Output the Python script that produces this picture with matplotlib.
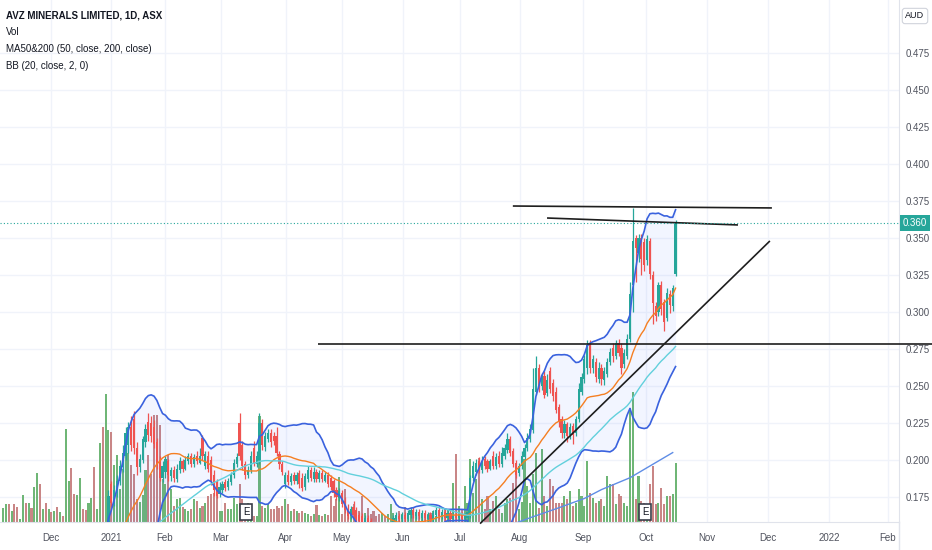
import numpy as np
import pandas as pd
import matplotlib
matplotlib.use("Agg")
import matplotlib.pyplot as plt
from matplotlib.lines import Line2D
from matplotlib.transforms import blended_transform_factory

# daily bars, Nov 2020 -> mid Oct 2021 (bar index on the x axis)
opens = [
    .110, .112, .115, .113, .118, .116, .114, .117, .120, .118,
    .121, .119, .122, .125, .123, .126, .124, .128, .127, .130,
    .128, .131, .129, .133, .136, .134, .132, .135, .138, .136,
    .134, .137, .140, .139, .143, .150, .145, .158, .184, .171,
    .178, .186, .195, .203, .210, .222, .228, .208, .195, .200,
    .212, .226, .225, .222, .212, .200, .188, .192, .199, .189,
    .193, .187, .193, .199, .194, .199, .203, .197, .203, .198,
    .215, .196, .203, .200, .190, .185, .177, .180, .185, .182,
    .185, .190, .197, .225, .210, .197, .190, .193, .208, .197,
    .200, .225, .209, .214, .218, .216, .216, .204, .197, .184,
    .190, .185, .190, .186, .191, .188, .182, .187, .193, .187,
    .192, .187, .191, .186, .190, .188, .186, .180, .174, .178,
    .172, .167, .162, .168, .166, .163, .162, .157, .161, .159,
    .156, .152, .150, .149, .152, .150, .154, .157, .160, .162,
    .160, .163, .160, .163, .166, .162, .165, .161, .164, .160,
    .163, .160, .163, .166, .162, .165, .161, .164, .160, .163,
    .161, .163, .160, .161, .163, .188, .192, .199, .193, .201,
    .199, .194, .203, .196, .203, .197, .203, .207, .214, .206,
    .198, .191, .196, .202, .208, .214, .220, .246, .262, .250,
    .257, .245, .260, .252, .246, .236, .228, .218, .224, .217,
    .223, .218, .228, .246, .255, .262, .279, .262, .266, .255,
    .262, .254, .258, .266, .276, .270, .279, .276, .265, .270,
    .282, .318, .350, .340, .350, .347, .335, .348, .325, .304,
    .300, .318, .307, .296, .312, .304, .326]
highs = [
    .114, .117, .116, .119, .119, .117, .118, .122, .121, .123,
    .122, .124, .128, .126, .128, .127, .130, .129, .132, .131,
    .133, .132, .139, .138, .137, .135, .137, .140, .139, .137,
    .139, .142, .141, .145, .148, .153, .158, .180, .186, .183,
    .190, .200, .210, .222, .226, .230, .233, .212, .204, .216,
    .224, .232, .230, .227, .215, .203, .199, .203, .201, .195,
    .196, .197, .202, .201, .203, .205, .205, .204, .206, .208,
    .217, .206, .206, .203, .193, .187, .185, .186, .187, .188,
    .192, .201, .205, .232, .213, .199, .196, .206, .213, .206,
    .232, .228, .219, .221, .221, .219, .222, .206, .199, .192,
    .193, .191, .192, .192, .193, .191, .191, .196, .195, .195,
    .194, .193, .193, .192, .192, .190, .187, .182, .181, .180,
    .175, .170, .169, .172, .168, .165, .164, .163, .163, .161,
    .158, .154, .152, .154, .154, .156, .159, .163, .165, .164,
    .165, .165, .166, .168, .168, .167, .167, .166, .166, .165,
    .165, .166, .168, .168, .167, .167, .166, .166, .165, .166,
    .165, .165, .164, .167, .190, .199, .201, .202, .203, .203,
    .201, .201, .206, .205, .206, .209, .211, .218, .216, .208,
    .200, .198, .206, .211, .218, .224, .262, .270, .265, .259,
    .260, .258, .263, .255, .249, .238, .230, .227, .226, .225,
    .225, .230, .252, .259, .271, .281, .281, .271, .269, .266,
    .265, .263, .269, .276, .279, .281, .282, .279, .275, .285,
    .320, .370, .352, .353, .353, .350, .352, .350, .328, .307,
    .320, .321, .309, .316, .315, .318, .362]
lows = [
    .109, .111, .111, .112, .114, .112, .113, .116, .116, .117,
    .117, .118, .121, .121, .122, .122, .123, .125, .126, .126,
    .127, .127, .128, .132, .132, .130, .131, .134, .134, .133,
    .133, .136, .137, .138, .141, .143, .144, .156, .168, .169,
    .175, .183, .192, .200, .205, .206, .204, .190, .192, .198,
    .209, .213, .212, .208, .194, .186, .185, .188, .186, .186,
    .185, .185, .191, .192, .193, .197, .195, .195, .197, .197,
    .200, .194, .192, .183, .176, .174, .175, .178, .179, .180,
    .183, .188, .195, .200, .193, .187, .188, .191, .196, .195,
    .197, .207, .206, .212, .209, .210, .203, .194, .190, .181,
    .183, .183, .184, .184, .181, .179, .180, .185, .186, .185,
    .185, .185, .185, .185, .182, .180, .175, .173, .172, .168,
    .164, .160, .160, .161, .158, .157, .156, .155, .155, .153,
    .150, .148, .147, .147, .148, .149, .152, .155, .158, .158,
    .158, .158, .159, .161, .161, .160, .160, .159, .159, .158,
    .158, .158, .161, .160, .160, .159, .159, .158, .158, .159,
    .159, .158, .158, .159, .161, .186, .190, .191, .191, .194,
    .192, .193, .194, .194, .195, .195, .201, .205, .203, .195,
    .188, .189, .194, .200, .206, .212, .218, .244, .246, .247,
    .242, .243, .245, .240, .232, .222, .215, .215, .212, .214,
    .211, .216, .226, .244, .252, .258, .259, .259, .253, .252,
    .251, .251, .256, .264, .266, .268, .270, .258, .262, .268,
    .280, .300, .320, .334, .325, .328, .332, .322, .292, .294,
    .297, .298, .287, .294, .299, .301, .324]
closes = [
    .112, .115, .113, .118, .116, .114, .117, .120, .118, .121,
    .119, .122, .125, .123, .126, .124, .128, .127, .130, .128,
    .131, .129, .133, .136, .134, .132, .135, .138, .136, .134,
    .137, .140, .139, .143, .146, .145, .155, .176, .171, .180,
    .186, .196, .205, .218, .222, .210, .208, .195, .201, .214,
    .221, .217, .216, .211, .197, .188, .196, .201, .190, .193,
    .188, .194, .199, .194, .200, .203, .197, .202, .199, .203,
    .203, .204, .194, .185, .180, .176, .182, .184, .181, .186,
    .190, .198, .202, .203, .196, .190, .193, .203, .198, .203,
    .225, .210, .216, .218, .212, .213, .205, .197, .192, .190,
    .185, .189, .186, .190, .184, .181, .189, .193, .188, .192,
    .187, .191, .187, .190, .184, .182, .178, .175, .179, .170,
    .166, .162, .167, .163, .160, .159, .158, .161, .157, .155,
    .152, .150, .149, .152, .150, .154, .157, .161, .163, .160,
    .163, .160, .164, .166, .163, .165, .162, .164, .161, .163,
    .160, .164, .166, .162, .165, .161, .164, .160, .163, .161,
    .163, .160, .162, .165, .188, .196, .198, .193, .199, .196,
    .194, .199, .196, .202, .197, .205, .208, .214, .205, .197,
    .190, .196, .203, .208, .215, .221, .248, .262, .250, .256,
    .244, .254, .248, .243, .234, .226, .218, .224, .216, .222,
    .217, .228, .248, .256, .268, .278, .262, .268, .256, .262,
    .255, .260, .266, .273, .270, .279, .272, .262, .272, .282,
    .312, .348, .343, .350, .336, .332, .349, .326, .306, .297,
    .318, .302, .293, .313, .305, .316, .360]
volumes = [
    14, 18, 18, 11, 18, 15, 3, 27, 19, 19,
    14, 35, 49, 38, 13, 19, 13, 10, 11, 15,
    10, 6, 93, 41, 54, 28, 27, 44, 13, 12,
    19, 24, 55, 13, 79, 95, 128, 92, 90, 57,
    67, 33, 53, 82, 69, 57, 48, 23, 20, 27,
    52, 67, 48, 107, 107, 97, 43, 38, 67, 33,
    16, 23, 24, 15, 13, 11, 13, 23, 21, 14,
    16, 19, 26, 28, 29, 27, 11, 11, 19, 13,
    13, 24, 18, 38, 23, 9, 19, 9, 6, 6,
    106, 16, 14, 18, 13, 13, 16, 14, 16, 23,
    18, 11, 13, 11, 9, 11, 9, 8, 6, 8,
    17, 7, 6, 8, 7, 26, 16, 23, 45, 8,
    33, 6, 11, 18, 8, 11, 26, 9, 14, 8,
    11, 6, 8, 9, 6, 8, 18, 9, 6, 11,
    8, 15, 8, 9, 7, 9, 8, 6, 9, 8,
    9, 11, 6, 9, 8, 13, 13, 8, 39, 68,
    16, 13, 36, 19, 63, 29, 43, 64, 23, 13,
    26, 13, 21, 26, 13, 9, 19, 23, 24, 39,
    51, 13, 20, 63, 36, 19, 48, 69, 14, 73,
    26, 16, 43, 36, 19, 19, 19, 26, 23, 31,
    16, 19, 33, 26, 16, 61, 29, 24, 19, 21,
    23, 16, 46, 38, 38, 18, 28, 26, 19, 16,
    114, 130, 23, 46, 21, 19, 16, 38, 56, 18,
    19, 34, 18, 26, 26, 28, 59]

# MA200 (bar index, price)
ma200_idx = [178, 185, 194, 204, 210, 220, 235]
ma200_val = [0.156, 0.161, 0.167, 0.174, 0.180, 0.188, 0.205]

# month labels on the time axis (bar index)
month_pos = [16.7, 37.9, 56.8, 76.5, 99.3, 118.9, 140.4, 160.4, 181.4,
             203.5, 225.6, 247.0, 268.4, 289.8, 310.5]
month_lbl = ['Dec', '2021', 'Feb', 'Mar', 'Apr', 'May', 'Jun', 'Jul', 'Aug',
             'Sep', 'Oct', 'Nov', 'Dec', '2022', 'Feb']
price_ticks = [0.175, 0.200, 0.225, 0.250, 0.275, 0.300, 0.325, 0.350,
               0.375, 0.400, 0.425, 0.450, 0.475]

# hand-drawn trend lines (bar index, price)
trend_lines = [
    ([178.9, 269.8], [0.3716, 0.3703]),
    ([190.9, 257.9], [0.3635, 0.3588]),
    ([110.5, 326.0], [0.2785, 0.2785]),
    ([167.4, 269.1], [0.1570, 0.3480]),
]
last_price = 0.360
earnings_idx = [85.3, 225.3]

UP, DOWN = '#26a69a', '#ef5350'
fam = ['Liberation Sans', 'DejaVu Sans']

o = np.array(opens)
h = np.array(highs)
l = np.array(lows)
c = np.array(closes)
v = np.array(volumes, dtype=float)
idx = np.arange(len(c))

close = pd.Series(c)
basis = close.rolling(20).mean()
dev = close.rolling(20).std(ddof=0)
upper = basis + 2 * dev
lower = basis - 2 * dev
ma50 = close.rolling(50).mean()

fig = plt.figure(figsize=(9.32, 5.5), dpi=100)
ax = fig.add_axes([0, 28 / 550, 899 / 932, 522 / 550])
ax.set_xlim(-1.05, 314.4)
ax.set_ylim(0.1581, 0.5108)

# grid
for m in month_pos:
    ax.axvline(m, color='#f0f3fa', lw=1, zorder=0)
for p in price_ticks:
    ax.axhline(p, color='#f0f3fa', lw=1, zorder=0)

# volume in the bottom quarter of the pane
up = c >= o
vol_col = np.where(up, '#6fb676', '#c98686')
trans = blended_transform_factory(ax.transData, ax.transAxes)
ax.bar(idx, v / (v.max() * 4.02), width=0.72, bottom=0, color=vol_col,
       transform=trans, zorder=1)

# bollinger bands and moving averages
ax.fill_between(idx, lower, upper, color='#2962ff', alpha=0.06, lw=0, zorder=2)
ax.plot(idx, upper, color='#3a62de', lw=1.2, zorder=4)
ax.plot(idx, lower, color='#3a62de', lw=1.2, zorder=4)
ax.plot(idx, basis, color='#f57f22', lw=1.0, zorder=4)
ax.plot(idx, ma50, color='#62d0dc', lw=1.0, zorder=4)
ax.plot(ma200_idx, ma200_val, color='#5f8de6', lw=1.0, zorder=4)

# candles
cc = np.where(up, UP, DOWN)
ax.vlines(idx, l, h, color=cc, lw=0.9, zorder=3)
body = np.maximum(np.abs(c - o), 0.0008)
ax.bar(idx, body, bottom=np.minimum(o, c), width=0.78, color=cc, zorder=3)

# drawings
for xs, ys in trend_lines:
    ax.plot(xs, ys, color='#1e1e1e', lw=1.2, zorder=5, clip_on=False,
            solid_capstyle='butt')
ax.axhline(last_price, color=UP, lw=0.8, ls=(0, (1, 2)), zorder=5)

for e in earnings_idx:
    ax.text(e, 0.019, 'E', transform=trans, ha='center', va='center',
            fontsize=7, color='#131722', family=fam, zorder=6,
            bbox=dict(boxstyle='square,pad=0.3', fc='white', ec='#3a3e4a', lw=1.2))

# axes styling
for s in ['top', 'left']:
    ax.spines[s].set_visible(False)
for s in ['bottom', 'right']:
    ax.spines[s].set_color('#e0e3eb')
ax.yaxis.tick_right()
ax.set_yticks(price_ticks)
ax.set_yticklabels(['%.3f' % p for p in price_ticks], family=fam)
ax.set_xticks(month_pos)
ax.set_xticklabels(month_lbl, family=fam)
ax.tick_params(axis='y', length=0, pad=5, labelsize=7, colors='#50535e')
ax.tick_params(axis='x', length=0, pad=8, labelsize=7, colors='#50535e')
fig.add_artist(Line2D([899 / 932, 899 / 932], [0, 28 / 550], color='#e0e3eb', lw=1))

# price label and currency box
fig.text(915 / 932, 1 - 223 / 550, '%.3f' % last_price, ha='center', va='center',
         fontsize=7, color='white', family=fam,
         bbox=dict(boxstyle='square,pad=0.3', fc=UP, ec='none'))
fig.text(915 / 932, 1 - 16 / 550, 'AUD', ha='center', va='center', fontsize=6.5,
         color='#131722', family=fam,
         bbox=dict(boxstyle='round,pad=0.35,rounding_size=0.3', fc='white', ec='#d1d4dc', lw=0.8))

# legend texts
fig.text(6 / 932, 1 - 15 / 550, 'AVZ MINERALS LIMITED, 1D, ASX', fontsize=7,
         fontweight='bold', color='#131722', va='center', family=fam)
fig.text(6 / 932, 1 - 32 / 550, 'Vol', fontsize=7, color='#131722', va='center', family=fam)
fig.text(6 / 932, 1 - 49 / 550, 'MA50&200 (50, close, 200, close)', fontsize=7,
         color='#131722', va='center', family=fam)
fig.text(6 / 932, 1 - 66 / 550, 'BB (20, close, 2, 0)', fontsize=7, color='#131722',
         va='center', family=fam)

fig.savefig('out.png', dpi=100, facecolor='white')
